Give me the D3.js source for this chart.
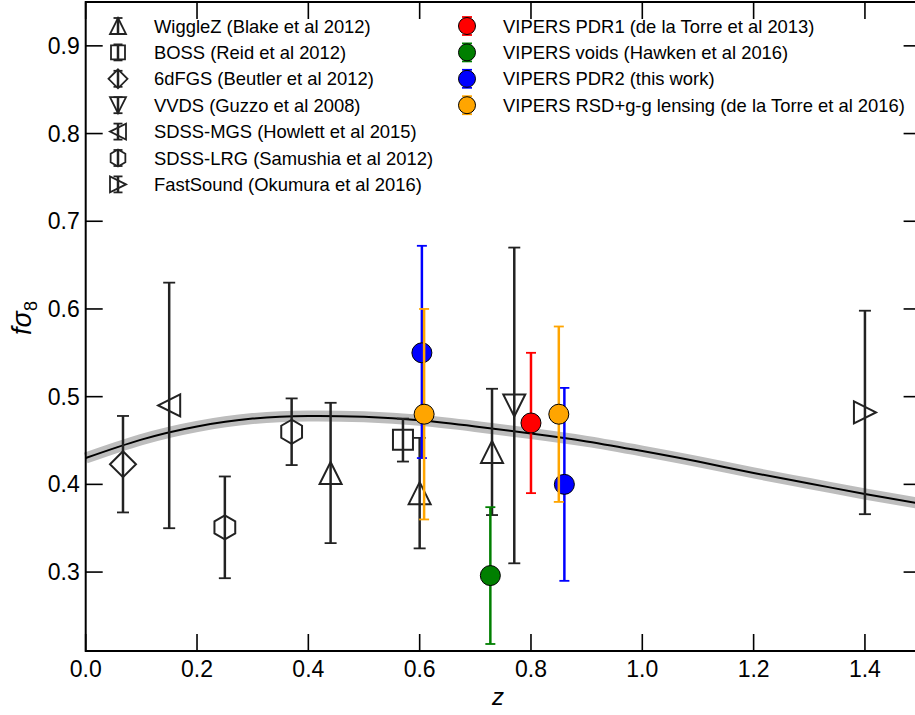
<!DOCTYPE html>
<html>
<head>
<meta charset="utf-8">
<script src="https://cdn.jsdelivr.net/npm/d3@7"></script>
<style>
  html, body { margin: 0; padding: 0; background: #fff; }
  svg { display: block; }
  text { font-family: "Liberation Sans", Arial, sans-serif; }
</style>
</head>
<body>
<svg id="chart" width="915" height="715"></svg>
<script>
// ---- data ----------------------------------------------------------------
// Model fσ8(z) curve, sampled every 0.1 in redshift
const curveZ   = [0.0, 0.1, 0.2, 0.3, 0.4, 0.5, 0.6, 0.7, 0.8, 0.9, 1.0, 1.1, 1.2, 1.3, 1.4, 1.5];
const curveFs8 = [0.430, 0.451, 0.466, 0.475, 0.478, 0.477, 0.473, 0.466, 0.458, 0.449, 0.438, 0.426, 0.413, 0.401, 0.389, 0.378];

// Literature measurements (open markers)
const litSurvey = ["6dFGS", "SDSS-MGS", "SDSS-LRG", "SDSS-LRG", "WiggleZ", "BOSS", "WiggleZ", "WiggleZ", "VVDS", "FastSound"];
const litZ      = [0.067, 0.15, 0.25, 0.37, 0.44, 0.57, 0.60, 0.73, 0.77, 1.40];
const litFs8    = [0.423, 0.49, 0.351, 0.460, 0.413, 0.451, 0.390, 0.437, 0.490, 0.482];
const litLo     = [0.368, 0.35, 0.293, 0.422, 0.333, 0.426, 0.327, 0.365, 0.310, 0.366];
const litHi     = [0.478, 0.63, 0.409, 0.498, 0.493, 0.475, 0.453, 0.509, 0.670, 0.598];

// VIPERS measurements (filled circles)
const vipSet  = ["PDR1", "voids", "PDR2", "PDR2", "lensing", "lensing"];
const vipZ    = [0.80, 0.727, 0.604, 0.86, 0.608, 0.85];
const vipFs8  = [0.47, 0.296, 0.55, 0.40, 0.48, 0.48];
const vipLo   = [0.39, 0.218, 0.43, 0.29, 0.36, 0.38];
const vipHi   = [0.55, 0.374, 0.672, 0.51, 0.60, 0.58];

// Legend entries
const litLegendKeys   = ["WiggleZ", "BOSS", "6dFGS", "VVDS", "SDSS-MGS", "SDSS-LRG", "FastSound"];
const litLegendLabels = ["WiggleZ (Blake et al 2012)", "BOSS (Reid et al 2012)", "6dFGS (Beutler et al 2012)",
                         "VVDS (Guzzo et al 2008)", "SDSS-MGS (Howlett et al 2015)", "SDSS-LRG (Samushia et al 2012)",
                         "FastSound (Okumura et al 2016)"];
const vipLegendKeys   = ["PDR1", "voids", "PDR2", "lensing"];
const vipLegendLabels = ["VIPERS PDR1 (de la Torre et al 2013)", "VIPERS voids (Hawken et al 2016)",
                         "VIPERS PDR2 (this work)", "VIPERS RSD+g-g lensing (de la Torre et al 2016)"];

const xTicks = [0.0, 0.2, 0.4, 0.6, 0.8, 1.0, 1.2, 1.4];
const yTicks = [0.3, 0.4, 0.5, 0.6, 0.7, 0.8, 0.9];

// ---- styling ---------------------------------------------------------------
const vipColor = { PDR1: "#ff0000", voids: "#007f00", PDR2: "#0000ff", lensing: "#ffa500" };
const markerShape = {
  "WiggleZ": "up", "BOSS": "square", "6dFGS": "diamond", "VVDS": "down",
  "SDSS-MGS": "left", "SDSS-LRG": "hex", "FastSound": "right"
};
const ink = "#222";

function shapePath(kind, s) {
  switch (kind) {
    case "up":    return `M0,${-s}L${s},${s}L${-s},${s}Z`;
    case "down":  return `M0,${s}L${s},${-s}L${-s},${-s}Z`;
    case "left":  return `M${-s},0L${s},${-s}L${s},${s}Z`;
    case "right": return `M${s},0L${-s},${-s}L${-s},${s}Z`;
    case "square":return `M${-s},${-s}H${s}V${s}H${-s}Z`;
    case "diamond":return `M0,${-s}L${s},0L0,${s}L${-s},0Z`;
    case "hex": {
      const p = d3.range(6).map(k => {
        const a = Math.PI / 2 + k * Math.PI / 3;
        return [s * Math.cos(a), -s * Math.sin(a)];
      });
      return "M" + p.map(q => q.join(",")).join("L") + "Z";
    }
  }
}
const dataSize   = { up: 11, down: 11, left: 11, right: 11, square: 10, diamond: 13, hex: 12 };
const legendSize = { up: 8, down: 8, left: 8, right: 8, square: 7, diamond: 9.5, hex: 8.5 };

// ---- scales ----------------------------------------------------------------
const svg = d3.select("#chart");
const x = d3.scaleLinear().domain([0, 1.5]).range([85.7, 920.6]);
const y = d3.scaleLinear().domain([0.21, 0.95]).range([651, 2]);
const [x0, x1] = x.range();
const [y0, y1] = y.range();

// ---- model curve -----------------------------------------------------------
const line = d3.line().x((d, i) => x(curveZ[i])).y(d => y(d)).curve(d3.curveNatural);
svg.append("path").datum(curveFs8).attr("d", line)
  .attr("fill", "none").attr("stroke", "#bdbdbd").attr("stroke-width", 11);
svg.append("path").datum(curveFs8).attr("d", line)
  .attr("fill", "none").attr("stroke", "#000").attr("stroke-width", 2);

// ---- error bars helper -----------------------------------------------------
function errorBar(g, cx, yLo, yHi, color, capW) {
  g.append("line").attr("x1", cx).attr("x2", cx).attr("y1", yLo).attr("y2", yHi)
    .attr("stroke", color).attr("stroke-width", 2.5);
  [yLo, yHi].forEach(yy => g.append("line")
    .attr("x1", cx - capW / 2).attr("x2", cx + capW / 2).attr("y1", yy).attr("y2", yy)
    .attr("stroke", color).attr("stroke-width", 1.8));
}

// ---- literature points -----------------------------------------------------
const lit = svg.append("g");
litZ.forEach((z, i) => {
  errorBar(lit, x(z), y(litLo[i]), y(litHi[i]), ink, 12);
});
litZ.forEach((z, i) => {
  const kind = markerShape[litSurvey[i]];
  lit.append("path").attr("d", shapePath(kind, dataSize[kind]))
    .attr("transform", `translate(${x(z)},${y(litFs8[i])})`)
    .attr("fill", "none").attr("stroke", ink).attr("stroke-width", 2);
});

// ---- VIPERS points ---------------------------------------------------------
const vip = svg.append("g");
vipZ.forEach((z, i) => {
  const c = vipColor[vipSet[i]];
  errorBar(vip, x(z), y(vipLo[i]), y(vipHi[i]), c, 10);
  vip.append("circle").attr("cx", x(z)).attr("cy", y(vipFs8[i])).attr("r", 10)
    .attr("fill", c).attr("stroke", "#000").attr("stroke-width", 1);
});

// ---- axes frame & ticks ----------------------------------------------------
const axes = svg.append("g").attr("stroke", "#000");
axes.append("rect").attr("x", x0).attr("y", y1).attr("width", x1 - x0).attr("height", y0 - y1)
  .attr("fill", "none").attr("stroke-width", 2);
const tickLen = 17;
xTicks.forEach(t => {
  const xx = x(t);
  axes.append("line").attr("x1", xx).attr("x2", xx).attr("y1", y0).attr("y2", y0 - tickLen).attr("stroke-width", 1.6);
  axes.append("line").attr("x1", xx).attr("x2", xx).attr("y1", y1).attr("y2", y1 + tickLen).attr("stroke-width", 1.6);
});
yTicks.forEach(t => {
  const yy = y(t);
  axes.append("line").attr("x1", x0).attr("x2", x0 + tickLen).attr("y1", yy).attr("y2", yy).attr("stroke-width", 1.6);
  axes.append("line").attr("x1", x1).attr("x2", x1 - tickLen).attr("y1", yy).attr("y2", yy).attr("stroke-width", 1.6);
});

const fmt = d3.format(".1f");
svg.append("g").selectAll("text").data(xTicks).join("text")
  .attr("x", d => x(d)).attr("y", y0 + 26).attr("text-anchor", "middle")
  .attr("font-size", 23).text(fmt);
svg.append("g").selectAll("text").data(yTicks).join("text")
  .attr("x", x0 - 6).attr("y", d => y(d) + 8).attr("text-anchor", "end")
  .attr("font-size", 23).text(fmt);

// axis titles
svg.append("text").attr("x", 498).attr("y", 705).attr("text-anchor", "middle")
  .attr("font-family", "'DejaVu Serif', serif").attr("font-style", "italic").attr("font-size", 24).text("z");
const yl = svg.append("text").attr("transform", "translate(31,318) rotate(-90)").attr("text-anchor", "middle")
  .attr("font-family", "'DejaVu Serif', serif").attr("font-style", "italic").attr("font-size", 27);
yl.append("tspan").text("fσ");
yl.append("tspan").attr("font-size", 18).attr("dy", 6).attr("font-style", "normal").text("8");

// ---- legends ---------------------------------------------------------------
const rowH = 26.4, legTop = 26;
const legL = svg.append("g");
litLegendKeys.forEach((k, i) => {
  const cy = legTop + i * rowH, cx = 118, kind = markerShape[k], s = legendSize[kind];
  errorBar(legL, cx, cy + 8, cy - 8, ink, 9);
  legL.append("path").attr("d", shapePath(kind, s)).attr("transform", `translate(${cx},${cy})`)
    .attr("fill", "none").attr("stroke", ink).attr("stroke-width", 1.8);
  legL.append("text").attr("x", 154).attr("y", cy + 6.5).attr("font-size", 18.4).text(litLegendLabels[i]);
});
const legR = svg.append("g");
vipLegendKeys.forEach((k, i) => {
  const cy = legTop + i * rowH, cx = 467, c = vipColor[k];
  errorBar(legR, cx, cy + 9, cy - 9, c, 10);
  legR.append("circle").attr("cx", cx).attr("cy", cy).attr("r", 8.5)
    .attr("fill", c).attr("stroke", "#000").attr("stroke-width", 1);
  legR.append("text").attr("x", 503).attr("y", cy + 6.5).attr("font-size", 18.4).text(vipLegendLabels[i]);
});
</script>
</body>
</html>
